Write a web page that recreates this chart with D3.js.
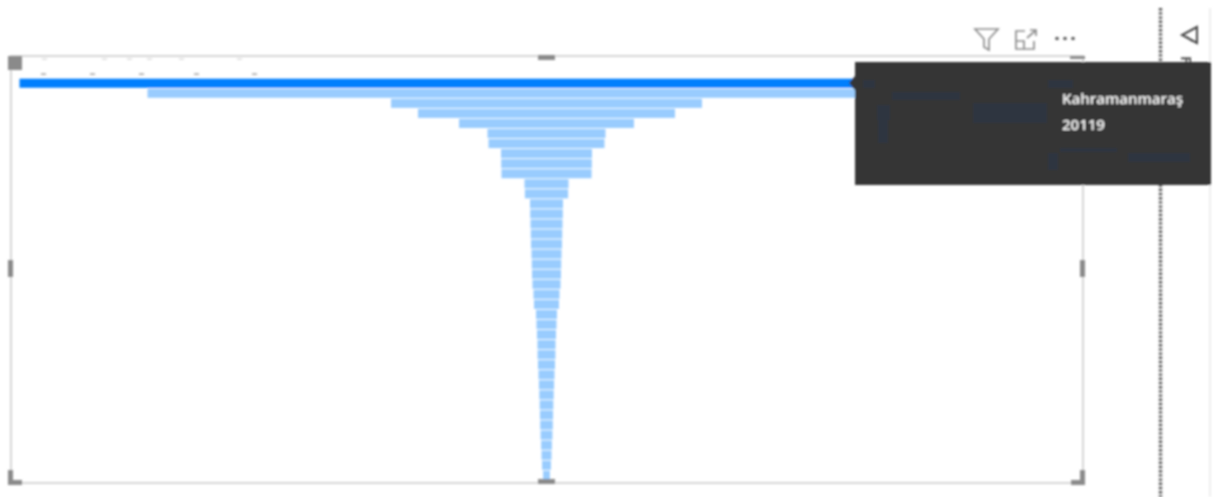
<!DOCTYPE html>
<html>
<head>
<meta charset="utf-8">
<script src="https://cdn.jsdelivr.net/npm/d3@7"></script>
<style>
  html, body { margin: 0; padding: 0; background: #fff; overflow: hidden; }
  text { font-family: "Open Sans", sans-serif; }
</style>
</head>
<body>
<script>
// Values, biggest first. Only the top bar has a readable label.
var topCategory = "Kahramanmaraş";
var values = [20119, 15232, 5936, 4906, 3340, 2252, 2214, 1737, 1730, 1720,
  840, 825, 630, 622, 611, 600, 592, 573, 561, 553,
  535, 497, 477, 400, 382, 363, 344, 340, 325, 305,
  290, 275, 260, 250, 240, 225, 205, 190, 170, 130];
var selectedIndex = 0;
var tooltipLines = [topCategory, "20119"];
var filtersLabel = "Filters";

var svgWidth = 1213;
var svgHeight = 497;

var svg = d3.select("body")
  .append("svg")
  .attr("width", svgWidth)
  .attr("height", svgHeight)
  .style("display", "block");

// the reference is a blurry screenshot
var defs = svg.append("defs");
defs.append("filter").attr("id", "soft")
  .append("feGaussianBlur").attr("stdDeviation", 0.85);

var page = svg.append("g").attr("filter", "url(#soft)");

// Visual frame
var frame = { left: 11, right: 1083, top: 56, bottom: 483 };
page.append("rect")
  .attr("x", frame.left)
  .attr("y", frame.top)
  .attr("width", frame.right - frame.left)
  .attr("height", frame.bottom - frame.top)
  .attr("fill", "none")
  .attr("stroke", "#d6d6d6")
  .attr("stroke-width", 2);

// Funnel scales: bars are centred, so width = 2 * half the value scale
var centerX = 546.5;
var halfScale = d3.scaleLinear()
  .domain([0, d3.max(values)])
  .range([0, 527]);

var yScale = d3.scaleBand()
  .domain(d3.range(values.length))
  .range([78.5, 480])
  .paddingInner(0.1)
  .paddingOuter(0.02);

page.selectAll("rect.bar")
  .data(values)
  .enter()
  .append("rect")
  .attr("class", "bar")
  .attr("x", d => centerX - halfScale(d))
  .attr("y", (d, i) => yScale(i))
  .attr("width", d => 2 * halfScale(d))
  .attr("height", yScale.bandwidth())
  .attr("fill", (d, i) => i === selectedIndex ? "#007ffd" : "#99ccfe");

// Selection handles on the frame
var handleColor = "#8a8a8a";
var handles = [
  [frame.left - 3, 260, 5, 17], [frame.right - 3, 260, 5, 17],
  [538, 55, 17, 5], [538, 479, 17, 5],
  [8, 56, 14, 14],
  [8, 480, 14, 5], [8, 470, 5, 12],
  [1071, 480, 14, 5], [1080, 470, 5, 12],
  [1070, 56, 15, 3]
];
page.selectAll("rect.handle")
  .data(handles)
  .enter()
  .append("rect")
  .attr("class", "handle")
  .attr("x", d => d[0])
  .attr("y", d => d[1])
  .attr("width", d => d[2])
  .attr("height", d => d[3])
  .attr("fill", handleColor);

// Faint specks of the unreadable title and labels, top left
var specks = [[44, 74], [93, 74], [142, 74], [197, 74], [255, 74], [45, 59], [105, 59], [130, 59], [150, 59], [182, 59], [240, 59]];
page.selectAll("rect.speck")
  .data(specks)
  .enter()
  .append("rect")
  .attr("class", "speck")
  .attr("x", d => d[0] - 3)
  .attr("y", d => d[1] - 0.5)
  .attr("width", 5)
  .attr("height", 1.2)
  .attr("fill", d => d[1] < 65 ? "#d4d4d4" : "#8a8a8a");

// Header icons
var icons = page.append("g")
  .attr("fill", "none")
  .attr("stroke", "#8c8c8c")
  .attr("stroke-width", 1.7);
icons.append("path").attr("d", "M975 29 H998 L989 39 V50 L984 47 V39 Z");
icons.append("path").attr("d", "M1025 31 H1016 V49 H1034 V41 M1016 41 H1024 V49 M1027 38 L1035 31 M1030 30 H1036 V36");
page.selectAll("circle.dot")
  .data([1057, 1065, 1073])
  .enter()
  .append("circle")
  .attr("class", "dot")
  .attr("cx", d => d)
  .attr("cy", 38.5)
  .attr("r", 1.8)
  .attr("fill", "#555");

// Dotted divider and the filter pane on the right
page.append("line")
  .attr("x1", 1160.5).attr("x2", 1160.5)
  .attr("y1", 8).attr("y2", 497)
  .attr("stroke", "#555")
  .attr("stroke-width", 3.4)
  .attr("stroke-dasharray", "2.4 1.8");
page.append("line")
  .attr("x1", 1210).attr("x2", 1210)
  .attr("y1", 8).attr("y2", 497)
  .attr("stroke", "#efefef")
  .attr("stroke-width", 2);
page.append("path")
  .attr("d", "M1197 27 L1182 35 L1197 43 Z M1187 37 L1192 41")
  .attr("fill", "none")
  .attr("stroke", "#444")
  .attr("stroke-width", 2);
page.append("text")
  .attr("transform", "translate(1181,56) rotate(90)")
  .attr("font-size", 15)
  .attr("font-weight", 600)
  .attr("fill", "#333")
  .text(filtersLabel);

// Tooltip of the hovered bar
var tooltip = page.append("g");
tooltip.append("path")
  .attr("d", "M855 62 H1211 V185 H855 V90 L849 83 L855 76 Z")
  .attr("fill", "#363636");

// shadows of the page showing through the tooltip
var ghosts = [
  [863, 80, 12, 8], [1048, 80, 25, 8], [892, 92, 68, 8], [877, 105, 13, 15],
  [973, 103, 74, 20], [878, 120, 10, 23], [1048, 153, 10, 17], [1128, 153, 62, 9],
  [1060, 148, 57, 4]
];
tooltip.selectAll("rect")
  .data(ghosts)
  .enter()
  .append("rect")
  .attr("x", d => d[0])
  .attr("y", d => d[1])
  .attr("width", d => d[2])
  .attr("height", d => d[3])
  .attr("fill", "#2d3641");

tooltip.selectAll("text")
  .data(tooltipLines)
  .enter()
  .append("text")
  .attr("x", 1062)
  .attr("y", (d, i) => 104 + i * 26)
  .attr("font-size", 15)
  .attr("font-weight", 600)
  .attr("fill", "#fafafa")
  .text(d => d);
</script>
</body>
</html>
